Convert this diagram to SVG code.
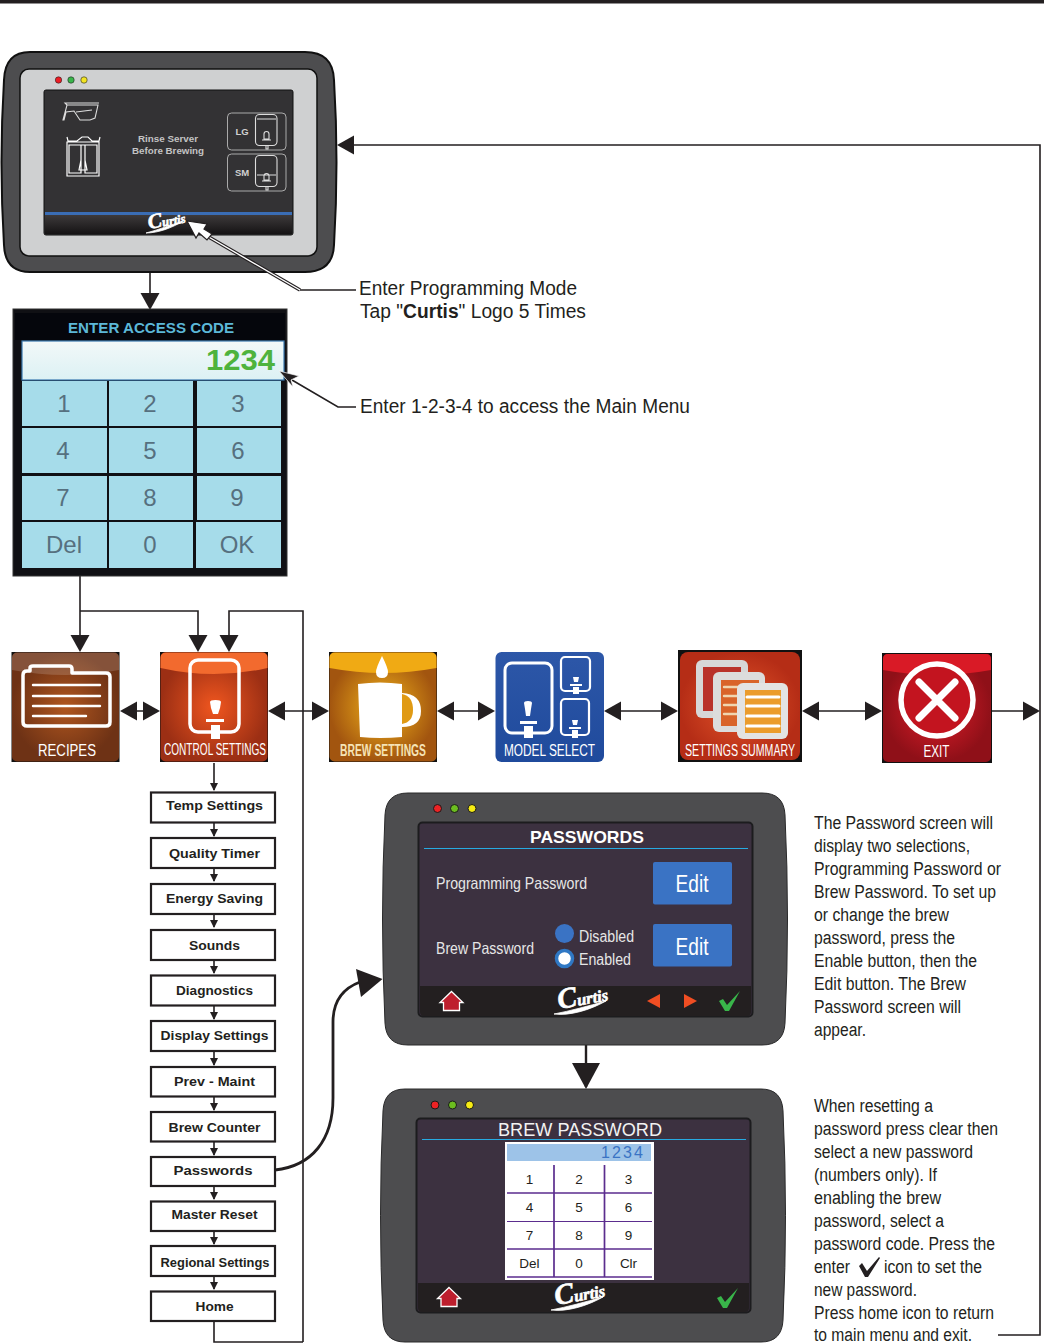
<svg xmlns="http://www.w3.org/2000/svg" width="1044" height="1343" viewBox="0 0 1044 1343">
<style>
text{font-family:"Liberation Sans",Arial,sans-serif}
.c{fill:none;stroke:#231f20;stroke-width:1.6}
.c2{fill:none;stroke:#231f20;stroke-width:2.4}
.body{fill:#4d4d4f;stroke:#2a2a2b;stroke-width:1}
.scr{fill:#3c3140;stroke:#1c1c1e;stroke-width:2}
.foot{fill:#231f20}
.rule{stroke:#27aae1;stroke-width:1.2}
.note{font-size:18px;fill:#231f20}
.ann{font-size:19.5px;fill:#231f20}
.item{fill:#fff;stroke:#231f20;stroke-width:2.2}
.lbl{font-size:13.5px;font-weight:bold;fill:#231f20;text-anchor:middle}
.wht{fill:#fff}
.ol{fill:none;stroke:#fff;stroke-width:3.5;stroke-linejoin:round}
.ln{stroke:#fff;stroke-width:2.4;stroke-linecap:round}
.ic{font-size:16px;fill:#fff;text-anchor:middle}
.key{font-size:24px;fill:#56707f;text-anchor:middle}
.cell{fill:#a6dcea}
.pk{font-size:13.5px;fill:#231f20;text-anchor:middle}
.pl{stroke:#5b2d8e}
.logo{font-family:"Liberation Serif",serif;font-weight:bold;font-style:italic;fill:#fff;stroke:#fff;stroke-width:.6}
.thin{fill:none;stroke:#ddd;stroke-width:1.1}
.gloss{fill:#fff;opacity:.16}
</style>
<defs>
<marker id="a" markerUnits="userSpaceOnUse" markerWidth="17" markerHeight="20" refX="15" refY="10" orient="auto-start-reverse"><path d="M0 .5L17 10L0 19.500z" fill="#231f20"/></marker>
<marker id="b" markerUnits="userSpaceOnUse" markerWidth="28" markerHeight="28" refX="24" refY="14" orient="auto"><path d="M0 0L26 14L0 28z" fill="#231f20"/></marker>
<marker id="s" markerUnits="userSpaceOnUse" markerWidth="9" markerHeight="9" refX="7" refY="4.500" orient="auto"><path d="M0 .5L8 4.500L0 8.500z" fill="#231f20"/></marker>
<radialGradient id="gR"><stop offset="0" stop-color="#b0561f"/><stop offset="1" stop-color="#6e3215"/></radialGradient>
<radialGradient id="gC"><stop offset="0" stop-color="#f0561f"/><stop offset="1" stop-color="#9c2f14"/></radialGradient>
<radialGradient id="gB"><stop offset="0" stop-color="#f2b31a"/><stop offset="1" stop-color="#a2550f"/></radialGradient>
<linearGradient id="gM" x1="0" y1="0" x2="0" y2="1"><stop offset="0" stop-color="#2d57a8"/><stop offset="1" stop-color="#1f4a9c"/></linearGradient>
<radialGradient id="gS"><stop offset="0" stop-color="#e4552a"/><stop offset="1" stop-color="#b52d16"/></radialGradient>
<radialGradient id="gE"><stop offset="0" stop-color="#e11d2a"/><stop offset="1" stop-color="#8f1018"/></radialGradient>
<linearGradient id="gK" x1="0" y1="0" x2="0" y2="1"><stop offset="0" stop-color="#f2f8f8"/><stop offset="1" stop-color="#dcf1f4"/></linearGradient>
<linearGradient id="gF" x1="0" y1="0" x2="0" y2="1"><stop offset="0" stop-color="#3d3a3b"/><stop offset="1" stop-color="#151314"/></linearGradient>
</defs>
<rect width="1044" height="1343" fill="#fff"/>
<rect width="1044" height="3.500" fill="#231f20"/>

<g id="connectors">
<path class="c" d="M150 273V308" marker-end="url(#a)"/>
<path class="c" d="M80 576V650" marker-end="url(#a)"/>
<path class="c" d="M80 611H198V650" marker-end="url(#a)"/>
<path class="c" d="M303 1342V611H229V650" marker-end="url(#a)"/>
<path class="c" d="M214 1321V1342H303"/>
<path class="c" d="M122 711H158" marker-start="url(#a)" marker-end="url(#a)"/>
<path class="c" d="M270 711H327" marker-start="url(#a)" marker-end="url(#a)"/>
<path class="c" d="M439 711H493" marker-start="url(#a)" marker-end="url(#a)"/>
<path class="c" d="M606 711H676" marker-start="url(#a)" marker-end="url(#a)"/>
<path class="c" d="M804 711H880" marker-start="url(#a)" marker-end="url(#a)"/>
<path class="c" d="M992 711H1038" marker-end="url(#a)"/>
<path class="c" d="M998 1335H1040V145H339" marker-end="url(#a)"/>
<path class="c" d="M214 763V790" marker-end="url(#s)"/>
<path class="c" d="M214 822V836" marker-end="url(#s)"/>
<path class="c" d="M214 868V881" marker-end="url(#s)"/>
<path class="c" d="M214 914V927" marker-end="url(#s)"/>
<path class="c" d="M214 960V973" marker-end="url(#s)"/>
<path class="c" d="M214 1006V1019" marker-end="url(#s)"/>
<path class="c" d="M214 1051V1065" marker-end="url(#s)"/>
<path class="c" d="M214 1096V1110" marker-end="url(#s)"/>
<path class="c" d="M214 1141V1155" marker-end="url(#s)"/>
<path class="c" d="M214 1186V1199" marker-end="url(#s)"/>
<path class="c" d="M214 1231V1244" marker-end="url(#s)"/>
<path class="c" d="M214 1276V1289" marker-end="url(#s)"/>
<path class="c2" d="M275 1170C312 1166 333 1140 333 1098V1022C333 1000 344 988 360 982" style="stroke-width:2.800"/>
<path d="M356 969L382.500 979L361 997Z" fill="#231f20"/>
<path class="c2" d="M586 1045V1087" marker-end="url(#b)"/>
</g>

<g id="device-main">
<path d="M30 52H305Q333 52 334 80Q339 162 334 245Q333 272 305 272H30Q5 272 4 245Q-1 162 4 80Q5 52 30 52Z" fill="#4d4d4f" stroke="#111" stroke-width="2"/>
<rect x="20" y="69" width="297" height="187" rx="9" fill="#cfd0d1" stroke="#111" stroke-width="1.500"/>
<circle cx="58.500" cy="80" r="3.200" fill="#ed1c24" stroke="#222" stroke-width=".6"/>
<circle cx="71" cy="80" r="3.200" fill="#39b54a" stroke="#222" stroke-width=".6"/>
<circle cx="84" cy="80" r="3.200" fill="#f2e422" stroke="#222" stroke-width=".6"/>
<rect x="44" y="90" width="249" height="145" rx="2" fill="#333234" stroke="#111"/>
<rect x="45" y="215" width="247" height="19" fill="url(#gF)"/>
<rect x="45" y="212" width="247" height="3" fill="#3a6db5"/>
<path d="M63 120L67 105H98L95 118L90 120H80L74 111L66 112L64 120Z" class="thin" stroke-width="1.300"/>
<path d="M76 112L92 110M67 105L65 103H99" class="thin"/>
<path d="M67 137L68 141H77L82 137H88L92 141H99L100 137M67 142H99V176H67ZM69 145H81V173H69ZM85 145H97V173H85ZM81 145H85V160L87 170H79L81 160Z" fill="none" stroke="#fff" stroke-width="1.200"/>
<text x="168" y="142" font-size="9" font-weight="bold" fill="#c4c4c4" text-anchor="middle" textLength="60" lengthAdjust="spacingAndGlyphs">Rinse Server</text>
<text x="168" y="153.500" font-size="9" font-weight="bold" fill="#c4c4c4" text-anchor="middle" textLength="72" lengthAdjust="spacingAndGlyphs">Before Brewing</text>
<rect x="227.500" y="113" width="58.500" height="37" rx="4" fill="none" stroke="#aaa" stroke-width="1"/>
<rect x="227.500" y="154" width="58.500" height="37" rx="4" fill="none" stroke="#aaa" stroke-width="1"/>
<text x="242" y="135" font-size="9.500" font-weight="bold" fill="#d0d0d0" text-anchor="middle">LG</text>
<text x="242" y="176" font-size="9.500" font-weight="bold" fill="#d0d0d0" text-anchor="middle">SM</text>
<rect x="255.500" y="114.500" width="21.500" height="31" rx="4" class="thin"/>
<rect x="255.500" y="155.500" width="21.500" height="31" rx="4" class="thin"/>
<path d="M257 119H276M262 140H271M266 146V149H268V146M264 134a2.500 2.500 0 0 1 5 0V139H264Z" class="thin"/>
<path d="M257 175H276M262 181H271M266 187V190H268V187M264 176a2.500 2.500 0 0 1 5 0V180H264Z" class="thin"/>
<text transform="translate(149 229) rotate(-10)" class="logo" font-size="12.500"><tspan font-size="21">C</tspan>urtis</text>
<path d="M146 233C158 230 170 225 183 221C172 228 158 233 146 233Z" fill="#fff" stroke="#fff" stroke-width=".8"/>
</g>

<g id="pointer-logo">
<path d="M300 290L207 236" fill="none" stroke="#231f20" stroke-width="3.600"/>
<path d="M300 290L207 236" fill="none" stroke="#fff" stroke-width="1.400"/>
<path d="M300 290H356" class="c"/>
<path d="M187 221L207 224L204 229L212 234L207 240L199 233L196 238Z" fill="#fff" stroke="#231f20" stroke-width="1.200"/>
</g>

<g id="keypad-access">
<rect x="13" y="309" width="274" height="267" fill="#101014" stroke="#333" stroke-width="1"/>
<rect x="15" y="313" width="270" height="27" fill="#05060c"/>
<text x="151" y="333" font-size="14.500" font-weight="bold" fill="#5cb8d8" text-anchor="middle" textLength="166" lengthAdjust="spacingAndGlyphs">ENTER ACCESS CODE</text>
<rect x="22" y="341" width="262" height="39" fill="url(#gK)" stroke="#3a79b0" stroke-width="1.200"/>
<text x="275" y="370" font-size="29" font-weight="bold" fill="#4eb33d" text-anchor="end" textLength="69" lengthAdjust="spacingAndGlyphs">1234</text>
<rect class="cell" x="22" y="381" width="85" height="45"/><rect class="cell" x="109" y="381" width="84" height="45"/><rect class="cell" x="197" y="381" width="84" height="45"/>
<rect class="cell" x="22" y="428" width="85" height="45"/><rect class="cell" x="109" y="428" width="84" height="45"/><rect class="cell" x="197" y="428" width="84" height="45"/>
<rect class="cell" x="22" y="476" width="85" height="44"/><rect class="cell" x="109" y="476" width="84" height="44"/><rect class="cell" x="197" y="476" width="84" height="44"/>
<rect class="cell" x="22" y="522" width="85" height="46"/><rect class="cell" x="109" y="522" width="84" height="46"/><rect class="cell" x="196" y="522" width="85" height="46"/>
<text class="key" x="64" y="412">1</text><text class="key" x="150" y="412">2</text><text class="key" x="238" y="412">3</text>
<text class="key" x="63" y="459">4</text><text class="key" x="150" y="459">5</text><text class="key" x="238" y="459">6</text>
<text class="key" x="63" y="506">7</text><text class="key" x="150" y="506">8</text><text class="key" x="237" y="506">9</text>
<text class="key" x="64" y="553">Del</text><text class="key" x="150" y="553">0</text><text class="key" x="237" y="553">OK</text>
</g>

<g id="pointer-keypad">
<path d="M338 407L298 383" fill="none" stroke="#fff" stroke-width="4"/>
<path d="M356 407H338L292 380" class="c"/>
<path d="M279 371L299 376L291 380L293 387Z" fill="#231f20" stroke="#fff" stroke-width=".7"/>
</g>

<g id="icon-recipes">
<rect x="11.500" y="652" width="108" height="110" fill="#111"/>
<rect x="12" y="652.500" width="107" height="109" rx="5" fill="url(#gR)"/>
<path d="M12 670V658Q12 652.500 18 652.500H113Q119 652.500 119 658V670Q65 680 12 670Z" class="gloss"/>
<path d="M23 675Q23 671 27 671H30V668Q30 666 33 666H69Q72 666 72 669V673H106Q110 673 110 677V722Q110 726 106 726H27Q23 726 23 722Z" class="ol"/>
<path class="ln" d="M33 685H100M33 696H100M33 706H100M33 716H86"/>
<text class="ic" x="67" y="756" textLength="58" lengthAdjust="spacingAndGlyphs">RECIPES</text>
</g>

<g id="icon-control">
<rect x="160" y="652" width="108" height="110" fill="#111"/>
<rect x="160.500" y="652.500" width="107" height="109" rx="5" fill="url(#gC)"/>
<path d="M160.500 668V658Q160.500 652.500 166 652.500H262Q267.500 652.500 267.500 658V668Q214 680 160.500 668Z" fill="#f26a2e"/>
<rect x="190" y="660" width="49" height="72" rx="8" fill="none" stroke="#fff" stroke-width="3.500"/>
<path d="M210 702Q210 700 215.500 700Q221 700 221 702L220 708L218 714H213L211 708Z" class="wht"/>
<rect x="206" y="719" width="18" height="3" class="wht"/><rect x="211" y="725" width="9" height="14" class="wht"/>
<text class="ic" x="215" y="755" font-size="15" textLength="102" lengthAdjust="spacingAndGlyphs">CONTROL SETTINGS</text>
</g>

<g id="icon-brew">
<rect x="329" y="652" width="108" height="110" fill="#111"/>
<rect x="329.500" y="652.500" width="107" height="109" rx="5" fill="url(#gB)"/>
<path d="M329.500 668V658Q329.500 652.500 335 652.500H431Q436.500 652.500 436.500 658V668Q383 678 329.500 668Z" fill="#f0aa14"/>
<path d="M382 656Q388 668 388 672Q388 678 382 678Q376 678 376 672Q376 668 382 656Z" class="wht"/>
<path d="M358 684Q380 681 402 684V693Q421 694 421 711Q421 727 402 727V737Q380 739 360 737Z" class="wht"/>
<path d="M402 694Q413 696 413 710Q413 722 402 724Z" fill="#e09a14"/>
<text class="ic" x="383" y="756" font-size="15.500" font-weight="bold" style="fill:#f5e3b5" textLength="86" lengthAdjust="spacingAndGlyphs">BREW SETTINGS</text>
</g>

<g id="icon-model">
<rect x="495.500" y="652" width="108.500" height="110" rx="6" fill="url(#gM)"/>
<rect x="505" y="663" width="47" height="70" rx="7" fill="none" stroke="#fff" stroke-width="3"/>
<path d="M524 703Q524 701 528 701Q532 701 532 703L531 709L530 716H526L525 709Z" class="wht"/>
<rect x="520" y="721" width="17" height="3" class="wht"/><rect x="524" y="726" width="9" height="12" class="wht"/>
<rect x="561" y="657" width="29" height="34" rx="4" fill="none" stroke="#fff" stroke-width="2.200"/>
<path d="M573 677H579L578 682H574Z" class="wht"/><rect x="570" y="684" width="12" height="2" class="wht"/><rect x="573" y="687" width="6" height="7" class="wht"/>
<rect x="561" y="699" width="28" height="36" rx="4" fill="none" stroke="#fff" stroke-width="2.200"/>
<path d="M572 720H578L577 725H573Z" class="wht"/><rect x="569" y="727" width="12" height="2" class="wht"/><rect x="572" y="730" width="6" height="8" class="wht"/>
<text class="ic" x="549.500" y="756" font-size="15.500" textLength="91" lengthAdjust="spacingAndGlyphs">MODEL SELECT</text>
</g>

<g id="icon-summary">
<rect x="678" y="650" width="124" height="112" fill="#111"/>
<rect x="680" y="652" width="120" height="108" rx="8" fill="url(#gS)"/>
<rect x="696" y="660" width="52" height="58" rx="6" fill="#d7d7d7"/>
<rect x="703" y="667" width="38" height="44" fill="#b9322a"/>
<rect x="713" y="672" width="52" height="60" rx="6" fill="#dcdcdc"/>
<rect x="721" y="680" width="38" height="46" fill="#d9642a"/>
<path class="ln" d="M724 687H757M724 696H757M724 705H757M724 714H757" style="stroke:#f0d5b0"/>
<rect x="737" y="683" width="51" height="56" rx="6" fill="#e3e3e3"/>
<rect x="745" y="690" width="36" height="43" fill="#eb9c2c"/>
<path class="ln" d="M747 697H779M747 706H779M747 716H779M747 726H779" style="stroke-width:3"/>
<text class="ic" x="740" y="756" font-size="15.500" textLength="110" lengthAdjust="spacingAndGlyphs">SETTINGS SUMMARY</text>
</g>

<g id="icon-exit">
<rect x="882" y="653" width="110" height="110" fill="#111"/>
<rect x="883" y="654" width="108" height="108" rx="5" fill="url(#gE)"/>
<path d="M883 670V659Q883 654 888 654H986Q991 654 991 659V670Q937 680 883 670Z" fill="#d91a26"/>
<circle cx="937" cy="700" r="36" fill="#c3141f" stroke="#fff" stroke-width="5.500"/>
<path d="M919 682L955 718M955 682L919 718" stroke="#fff" stroke-width="7" stroke-linecap="round"/>
<text class="ic" x="936.500" y="757" font-size="15.500" textLength="26" lengthAdjust="spacingAndGlyphs">EXIT</text>
</g>

<g id="item-temp"><rect class="item" x="151" y="792.500" width="124" height="30"/><text class="lbl" x="214.500" y="810" textLength="97" lengthAdjust="spacingAndGlyphs">Temp Settings</text></g>
<g id="item-quality"><rect class="item" x="151" y="838" width="124" height="30"/><text class="lbl" x="214.500" y="857.500" textLength="91" lengthAdjust="spacingAndGlyphs">Quality Timer</text></g>
<g id="item-energy"><rect class="item" x="151" y="884" width="124" height="30"/><text class="lbl" x="214.500" y="903" textLength="97" lengthAdjust="spacingAndGlyphs">Energy Saving</text></g>
<g id="item-sounds"><rect class="item" x="151" y="930" width="124" height="30"/><text class="lbl" x="214.500" y="950" textLength="51" lengthAdjust="spacingAndGlyphs">Sounds</text></g>
<g id="item-diagnostics"><rect class="item" x="151" y="975.500" width="124" height="30"/><text class="lbl" x="214.500" y="995" textLength="77" lengthAdjust="spacingAndGlyphs">Diagnostics</text></g>
<g id="item-display"><rect class="item" x="151" y="1021" width="124" height="30"/><text class="lbl" x="214.500" y="1040" textLength="108" lengthAdjust="spacingAndGlyphs">Display Settings</text></g>
<g id="item-prev"><rect class="item" x="151" y="1067" width="124" height="29.500"/><text class="lbl" x="214.500" y="1085.500" textLength="81" lengthAdjust="spacingAndGlyphs">Prev - Maint</text></g>
<g id="item-brewcounter"><rect class="item" x="151" y="1112" width="124" height="29.500"/><text class="lbl" x="214.500" y="1131.500" textLength="92" lengthAdjust="spacingAndGlyphs">Brew Counter</text></g>
<g id="item-passwords"><rect class="item" x="151" y="1157" width="124" height="29"/><text class="lbl" x="213" y="1175" font-size="14.500" textLength="79" lengthAdjust="spacingAndGlyphs">Passwords</text></g>
<g id="item-master"><rect class="item" x="151" y="1201.500" width="124" height="29.500"/><text class="lbl" x="214.500" y="1219" textLength="86" lengthAdjust="spacingAndGlyphs">Master Reset</text></g>
<g id="item-regional"><rect class="item" x="151" y="1246" width="124" height="30"/><text class="lbl" x="215" y="1267" textLength="109" lengthAdjust="spacingAndGlyphs">Regional Settings</text></g>
<g id="item-home"><rect class="item" x="151" y="1291.500" width="124" height="29.500"/><text class="lbl" x="214.500" y="1311" textLength="38" lengthAdjust="spacingAndGlyphs">Home</text></g>

<g id="device-passwords">
<path class="body" d="M408 793H762Q784 793 785 815Q790 919 785 1023Q784 1045 762 1045H408Q386 1045 385 1023Q380 919 385 815Q386 793 408 793Z"/>
<circle cx="437.500" cy="808.500" r="4" fill="#ed2224" stroke="#1a1a1a"/><circle cx="454.500" cy="808.500" r="4" fill="#6cbd1f" stroke="#1a1a1a"/><circle cx="472" cy="808.500" r="4" fill="#f7ec13" stroke="#1a1a1a"/>
<rect class="scr" x="418.500" y="822.500" width="334" height="194" rx="4"/>
<path class="foot" d="M420 986H751V1012Q751 1016 747 1016H424Q420 1016 420 1012Z"/>
<text x="587" y="843" font-size="17" font-weight="bold" fill="#fff" text-anchor="middle" textLength="114" lengthAdjust="spacingAndGlyphs">PASSWORDS</text>
<path class="rule" d="M424 848.500H748"/>
<text x="436" y="889" font-size="16.500" fill="#e6e6e6" textLength="151" lengthAdjust="spacingAndGlyphs">Programming Password</text>
<text x="436" y="954" font-size="16.500" fill="#e6e6e6" textLength="98" lengthAdjust="spacingAndGlyphs">Brew Password</text>
<rect x="653" y="862" width="79" height="42.500" rx="2" fill="#3a73c4"/>
<rect x="653" y="924" width="79" height="42.500" rx="2" fill="#3a73c4"/>
<text x="692" y="892" font-size="23" fill="#fff" text-anchor="middle" textLength="33" lengthAdjust="spacingAndGlyphs">Edit</text>
<text x="692" y="955" font-size="23" fill="#fff" text-anchor="middle" textLength="33" lengthAdjust="spacingAndGlyphs">Edit</text>
<circle cx="564.500" cy="933.500" r="9.500" fill="#3a73c4"/>
<circle cx="564.500" cy="958.500" r="8" fill="#fff" stroke="#2f78c4" stroke-width="3.500"/>
<text x="579" y="942" font-size="16" fill="#e6e6e6" textLength="55" lengthAdjust="spacingAndGlyphs">Disabled</text>
<text x="579" y="965" font-size="16" fill="#e6e6e6" textLength="52" lengthAdjust="spacingAndGlyphs">Enabled</text>
<path d="M451.500 991.500L463 1002.500H459.500V1010.500H443.500V1002.500H440Z" fill="#be1e2d" stroke="#fff" stroke-width="1.300"/>
<text transform="translate(559 1009) rotate(-10)" class="logo" font-size="16.500"><tspan font-size="29">C</tspan>urtis</text>
<path d="M554 1014C570 1011 588 1006 606 1001C590 1010 570 1016 554 1014Z" fill="#fff" stroke="#fff" stroke-width=".8"/>
<path d="M660 994V1008L647 1001Z" fill="#f04e23"/><path d="M684 994V1008L697 1001Z" fill="#f04e23"/>
<path d="M719 1001L723 999L727 1005L740 991L729 1011H725Z" fill="#39b54a"/>
</g>

<g id="device-brewpassword">
<path class="body" d="M405 1089H761Q782 1089 783 1111Q788 1215 783 1320Q782 1342 761 1342H405Q384 1342 383 1320Q378 1215 383 1111Q384 1089 405 1089Z"/>
<circle cx="435" cy="1105" r="4" fill="#ed2224" stroke="#1a1a1a"/><circle cx="452.500" cy="1105" r="4" fill="#6cbd1f" stroke="#1a1a1a"/><circle cx="469.500" cy="1105" r="4" fill="#f7ec13" stroke="#1a1a1a"/>
<rect class="scr" x="416.500" y="1118.500" width="334" height="194" rx="4"/>
<path class="foot" d="M418 1283H749V1308Q749 1312 745 1312H422Q418 1312 418 1308Z"/>
<text x="580" y="1136" font-size="17.500" fill="#f2f2f2" text-anchor="middle" textLength="164" lengthAdjust="spacingAndGlyphs">BREW PASSWORD</text>
<path class="rule" d="M422 1139.500H746"/>
<rect x="505" y="1142" width="149" height="138" fill="#fff"/>
<rect x="507" y="1144" width="144" height="17" fill="#9dc3e8"/>
<text x="643" y="1158" font-size="16" fill="#3a73c4" text-anchor="end" textLength="42" lengthAdjust="spacing">1234</text>
<path class="pl" stroke-width="1.700" d="M554 1165V1277M604.500 1165V1277"/>
<path class="pl" stroke-width="1.700" d="M507 1193H652M507 1249H652M507 1277H652"/>
<path class="pl" stroke-width="1" d="M507 1221.500H652"/>
<text class="pk" x="529.500" y="1184">1</text><text class="pk" x="579" y="1184">2</text><text class="pk" x="628.500" y="1184">3</text>
<text class="pk" x="529.500" y="1212">4</text><text class="pk" x="579" y="1212">5</text><text class="pk" x="628.500" y="1212">6</text>
<text class="pk" x="529.500" y="1240">7</text><text class="pk" x="579" y="1240">8</text><text class="pk" x="628.500" y="1240">9</text>
<text class="pk" x="529.500" y="1268">Del</text><text class="pk" x="579" y="1268">0</text><text class="pk" x="628.500" y="1268">Clr</text>
<path d="M449 1287.500L460.500 1298.500H457V1306.500H441V1298.500H437.500Z" fill="#be1e2d" stroke="#fff" stroke-width="1.300"/>
<text transform="translate(556 1305) rotate(-10)" class="logo" font-size="16.500"><tspan font-size="29">C</tspan>urtis</text>
<path d="M551 1310C567 1307 585 1302 603 1297C587 1306 567 1312 551 1310Z" fill="#fff" stroke="#fff" stroke-width=".8"/>
<path d="M717 1298L721 1296L725 1302L738 1288L727 1308H723Z" fill="#39b54a"/>
</g>

<g id="annotations">
<text class="ann" x="359" y="295" textLength="218" lengthAdjust="spacingAndGlyphs">Enter Programming Mode</text>
<text class="ann" x="360" y="318" textLength="226" lengthAdjust="spacingAndGlyphs">Tap "<tspan font-weight="bold">Curtis</tspan>" Logo 5 Times</text>
<text class="ann" x="360" y="413" textLength="330" lengthAdjust="spacingAndGlyphs">Enter 1-2-3-4 to access the Main Menu</text>
</g>

<g id="notes">
<text class="note" x="814" y="828.500" textLength="179" lengthAdjust="spacingAndGlyphs">The Password screen will</text>
<text class="note" x="814" y="851.500" textLength="156" lengthAdjust="spacingAndGlyphs">display two selections,</text>
<text class="note" x="814" y="874.500" textLength="187" lengthAdjust="spacingAndGlyphs">Programming Password or</text>
<text class="note" x="814" y="897.500" textLength="182" lengthAdjust="spacingAndGlyphs">Brew Password. To set up</text>
<text class="note" x="814" y="920.500" textLength="135" lengthAdjust="spacingAndGlyphs">or change the brew</text>
<text class="note" x="814" y="943.500" textLength="141" lengthAdjust="spacingAndGlyphs">password, press the</text>
<text class="note" x="814" y="966.500" textLength="163" lengthAdjust="spacingAndGlyphs">Enable button, then the</text>
<text class="note" x="814" y="989.500" textLength="152" lengthAdjust="spacingAndGlyphs">Edit button. The Brew</text>
<text class="note" x="814" y="1012.500" textLength="147" lengthAdjust="spacingAndGlyphs">Password screen will</text>
<text class="note" x="814" y="1035.500" textLength="52" lengthAdjust="spacingAndGlyphs">appear.</text>
<text class="note" x="814" y="1111.500" textLength="119" lengthAdjust="spacingAndGlyphs">When resetting a</text>
<text class="note" x="814" y="1134.500" textLength="184" lengthAdjust="spacingAndGlyphs">password press clear then</text>
<text class="note" x="814" y="1157.500" textLength="159" lengthAdjust="spacingAndGlyphs">select a new password</text>
<text class="note" x="814" y="1180.500" textLength="123" lengthAdjust="spacingAndGlyphs">(numbers only). If</text>
<text class="note" x="814" y="1203.500" textLength="127" lengthAdjust="spacingAndGlyphs">enabling the brew</text>
<text class="note" x="814" y="1226.500" textLength="130" lengthAdjust="spacingAndGlyphs">password, select a</text>
<text class="note" x="814" y="1249.500" textLength="181" lengthAdjust="spacingAndGlyphs">password code. Press the</text>
<text class="note" x="814" y="1273" textLength="36" lengthAdjust="spacingAndGlyphs">enter</text>
<path d="M859 1266L862 1263L867 1271L879 1257L880 1258L868 1277H865Z" fill="#231f20"/>
<text class="note" x="884" y="1273" textLength="98" lengthAdjust="spacingAndGlyphs">icon to set the</text>
<text class="note" x="814" y="1296" textLength="103" lengthAdjust="spacingAndGlyphs">new password.</text>
<text class="note" x="814" y="1319" textLength="180" lengthAdjust="spacingAndGlyphs">Press home icon to return</text>
<text class="note" x="814" y="1341" textLength="158" lengthAdjust="spacingAndGlyphs">to main menu and exit.</text>
</g>
</svg>
